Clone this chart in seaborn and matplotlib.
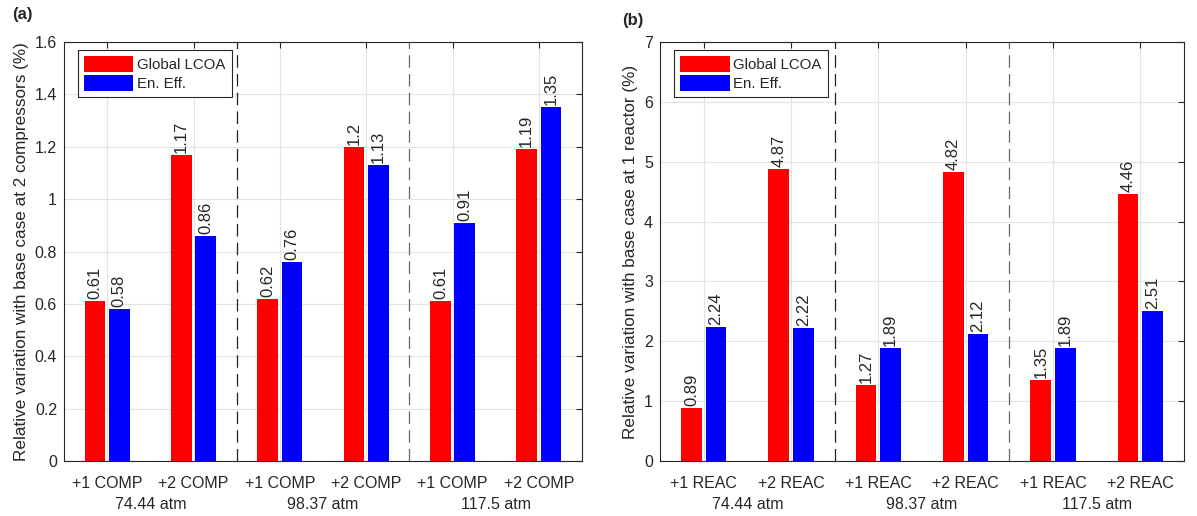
import matplotlib
matplotlib.use("Agg")
import matplotlib.pyplot as plt
import matplotlib.ticker as mticker
import numpy as np
import pandas as pd
import seaborn as sns

# data
pressures = ["74.44 atm", "98.37 atm", "117.5 atm"]
series = ["Global LCOA", "En. Eff."]
comp_labels = ["+1 COMP", "+2 COMP"] * 3
comp_lcoa = [0.61, 1.17, 0.62, 1.2, 0.61, 1.19]
comp_eff = [0.58, 0.86, 0.76, 1.13, 0.91, 1.35]
reac_labels = ["+1 REAC", "+2 REAC"] * 3
reac_lcoa = [0.89, 4.87, 1.27, 4.82, 1.35, 4.46]
reac_eff = [2.24, 2.22, 1.89, 2.12, 1.89, 2.51]

sns.set_style("white")
plt.rcParams["font.family"] = ["Liberation Sans", "DejaVu Sans"]
plt.rcParams["text.color"] = "#262626"

fig = plt.figure(figsize=(11.97, 5.16), dpi=100)
ax_a = fig.add_axes([64 / 1197, 1 - 461 / 516, 518 / 1197, 419 / 516])
ax_b = fig.add_axes([660 / 1197, 1 - 461 / 516, 524 / 1197, 419 / 516])


def draw_panel(ax, labels, lcoa, eff, ymax, ylabel):
    n = len(labels)
    df = pd.DataFrame({
        "pos": [str(i) for i in range(n)] * 2,
        "value": lcoa + eff,
        "series": [series[0]] * n + [series[1]] * n,
    })
    sns.barplot(data=df, x="pos", y="value", hue="series", order=[str(i) for i in range(n)],
                hue_order=series, palette=["#ff0000", "#0000ff"], width=0.56, gap=0.15,
                saturation=1, linewidth=0, ax=ax, zorder=3)
    for cont in ax.containers:
        ax.bar_label(cont, fmt="%g", rotation=90, padding=1.5, fontsize=12, color="#262626")

    ax.set_xlim(-0.5, n - 0.5)
    ax.set_ylim(0, ymax)
    ax.set_xticks(range(n))
    ax.set_xticklabels(labels, fontsize=11.5)
    ax.yaxis.set_major_formatter(mticker.FuncFormatter(lambda v, p: f"{v:g}"))
    ax.tick_params(axis="y", labelsize=11.5, pad=5)
    ax.tick_params(axis="x", pad=11)
    ax.tick_params(direction="in", length=4, top=True, right=True, colors="#262626", width=0.8)
    ax.set_xlabel("")
    ax.set_ylabel(ylabel, fontsize=12.3, labelpad=4)
    ax.grid(True, color="#e3e3e3", linewidth=0.8, zorder=0)
    ax.set_axisbelow(True)
    for s in ax.spines.values():
        s.set_color("#262626")
        s.set_linewidth(0.8)

    # separators between pressure groups
    for xs, col in [(1.5, "#222222"), (3.5, "#666666")]:
        ax.axvline(xs, color=col, linestyle=(0, (10, 5)), linewidth=0.9, zorder=4)

    # second row of tick labels
    for i, p in enumerate(pressures):
        ax.text(2 * i + 0.5, -0.085, p, transform=ax.get_xaxis_transform(),
                ha="center", va="top", fontsize=11.5, color="#262626")

    leg = ax.legend(loc="upper left", bbox_to_anchor=(0.027, 0.981), borderaxespad=0,
                    fontsize=10.8, handlelength=3.3, handleheight=1.25, handletextpad=0.25,
                    borderpad=0.4, labelspacing=0.2, fancybox=False, framealpha=1,
                    edgecolor="#262626")
    leg.get_frame().set_linewidth(0.8)


draw_panel(ax_a, comp_labels, comp_lcoa, comp_eff, 1.6,
           "Relative variation with base case at 2 compressors (%)")
draw_panel(ax_b, reac_labels, reac_lcoa, reac_eff, 7,
           "Relative variation with base case at 1 reactor (%)")
ax_a.set_yticks(np.arange(0, 1.61, 0.2))
ax_b.set_yticks(range(0, 8))

fig.text(12 / 1197, 1 - 14 / 516, "(a)", fontsize=12, fontweight="bold", va="center", ha="left")
fig.text(622 / 1197, 1 - 20 / 516, "(b)", fontsize=12, fontweight="bold", va="center", ha="left")

fig.savefig("out.png", dpi=100)
